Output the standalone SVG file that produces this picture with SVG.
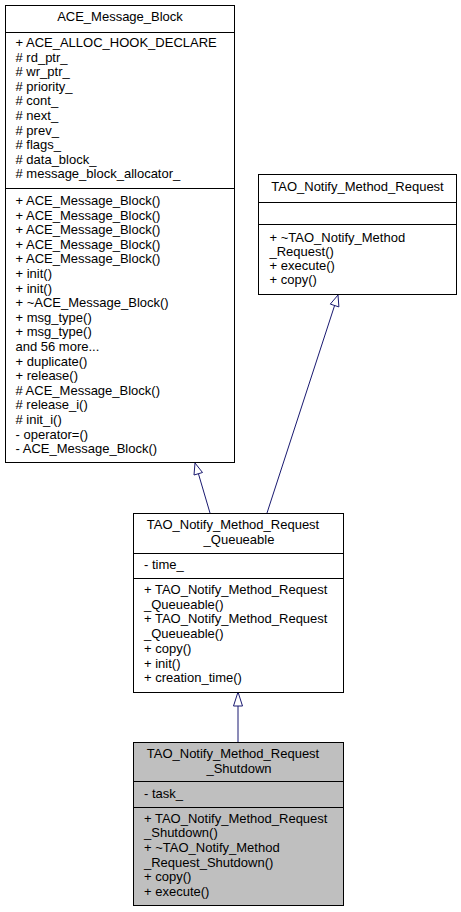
<svg xmlns="http://www.w3.org/2000/svg" width="461" height="912" viewBox="0 0 461 912">
<style>
.box{fill:#ffffff;stroke:#000000;stroke-width:1}
.cur{fill:#bfbfbf;stroke:#000000;stroke-width:1}
.sep{stroke:#000000;stroke-width:1}
text{font-family:"Liberation Sans",Arial,Helvetica,sans-serif;font-size:13px;fill:#000000}
.c{text-anchor:middle}
.edge{fill:none;stroke:#191970;stroke-width:1}
.head{fill:#ffffff;stroke:#191970;stroke-width:1}
</style>
<rect x="0" y="0" width="461" height="912" fill="#ffffff"/>
<g id="connectors">
<path class="edge" d="M210,513 L198.5,474"/>
<polygon class="head" points="195,463 202.5,472.5 194,475"/>
<path class="edge" d="M267,513 L334.6,305.5"/>
<polygon class="head" points="338,295 338.9,306.9 330.3,304.1"/>
<path class="edge" d="M238,742 L238,706"/>
<polygon class="head" points="238,692 242.5,706 233.5,706"/>
</g>
<g id="node_ace_message_block">
<rect class="box" x="5.5" y="5.5" width="229" height="457"/>
<line class="sep" x1="5.5" y1="32.5" x2="234.5" y2="32.5"/>
<line class="sep" x1="5.5" y1="188.5" x2="234.5" y2="188.5"/>
<text class="c" x="120" y="21">ACE_Message_Block</text>
<text x="15.5" y="47">+ ACE_ALLOC_HOOK_DECLARE</text>
<text x="15.5" y="61.6"># rd_ptr_</text>
<text x="15.5" y="76.2"># wr_ptr_</text>
<text x="15.5" y="90.8"># priority_</text>
<text x="15.5" y="105.4"># cont_</text>
<text x="15.5" y="120"># next_</text>
<text x="15.5" y="134.6"># prev_</text>
<text x="15.5" y="149.2"># flags_</text>
<text x="15.5" y="163.8"># data_block_</text>
<text x="15.5" y="178.4"># message_block_allocator_</text>
<text x="15.5" y="205">+ ACE_Message_Block()</text>
<text x="15.5" y="219.6">+ ACE_Message_Block()</text>
<text x="15.5" y="234.2">+ ACE_Message_Block()</text>
<text x="15.5" y="248.8">+ ACE_Message_Block()</text>
<text x="15.5" y="263.4">+ ACE_Message_Block()</text>
<text x="15.5" y="278">+ init()</text>
<text x="15.5" y="292.6">+ init()</text>
<text x="15.5" y="307.2">+ ~ACE_Message_Block()</text>
<text x="15.5" y="321.8">+ msg_type()</text>
<text x="15.5" y="336.4">+ msg_type()</text>
<text x="15.5" y="351">and 56 more...</text>
<text x="15.5" y="365.6">+ duplicate()</text>
<text x="15.5" y="380.2">+ release()</text>
<text x="15.5" y="394.8"># ACE_Message_Block()</text>
<text x="15.5" y="409.4"># release_i()</text>
<text x="15.5" y="424"># init_i()</text>
<text x="15.5" y="438.6">- operator=()</text>
<text x="15.5" y="453.2">- ACE_Message_Block()</text>
</g>
<g id="node_tao_notify_method_request">
<rect class="box" x="258.5" y="174.5" width="198" height="120"/>
<line class="sep" x1="258.5" y1="202.5" x2="456.5" y2="202.5"/>
<line class="sep" x1="258.5" y1="224.5" x2="456.5" y2="224.5"/>
<text class="c" x="357.5" y="190.5">TAO_Notify_Method_Request</text>
<text x="269.5" y="242">+ ~TAO_Notify_Method</text>
<text x="269.5" y="256">_Request()</text>
<text x="269.5" y="270">+ execute()</text>
<text x="269.5" y="284">+ copy()</text>
</g>
<g id="node_tao_notify_method_request_queueable">
<rect class="box" x="133.5" y="513.5" width="210" height="179"/>
<line class="sep" x1="133.5" y1="553.5" x2="343.5" y2="553.5"/>
<line class="sep" x1="133.5" y1="578.5" x2="343.5" y2="578.5"/>
<text class="c" x="233" y="528.5">TAO_Notify_Method_Request</text>
<text class="c" x="239" y="543.5">_Queueable</text>
<text x="144" y="568.5">- time_</text>
<text x="144" y="594">+ TAO_Notify_Method_Request</text>
<text x="144" y="608.7">_Queueable()</text>
<text x="144" y="623.4">+ TAO_Notify_Method_Request</text>
<text x="144" y="638.1">_Queueable()</text>
<text x="144" y="652.8">+ copy()</text>
<text x="144" y="667.5">+ init()</text>
<text x="144" y="682.2">+ creation_time()</text>
</g>
<g id="node_tao_notify_method_request_shutdown">
<rect class="cur" x="133.5" y="742.5" width="210" height="163"/>
<line class="sep" x1="133.5" y1="781.5" x2="343.5" y2="781.5"/>
<line class="sep" x1="133.5" y1="807.5" x2="343.5" y2="807.5"/>
<text class="c" x="233" y="757.5">TAO_Notify_Method_Request</text>
<text class="c" x="239" y="772.8">_Shutdown</text>
<text x="144" y="798.3">- task_</text>
<text x="144" y="822.7">+ TAO_Notify_Method_Request</text>
<text x="144" y="837.3">_Shutdown()</text>
<text x="144" y="851.9">+ ~TAO_Notify_Method</text>
<text x="144" y="866.5">_Request_Shutdown()</text>
<text x="144" y="881.1">+ copy()</text>
<text x="144" y="895.7">+ execute()</text>
</g>
</svg>
